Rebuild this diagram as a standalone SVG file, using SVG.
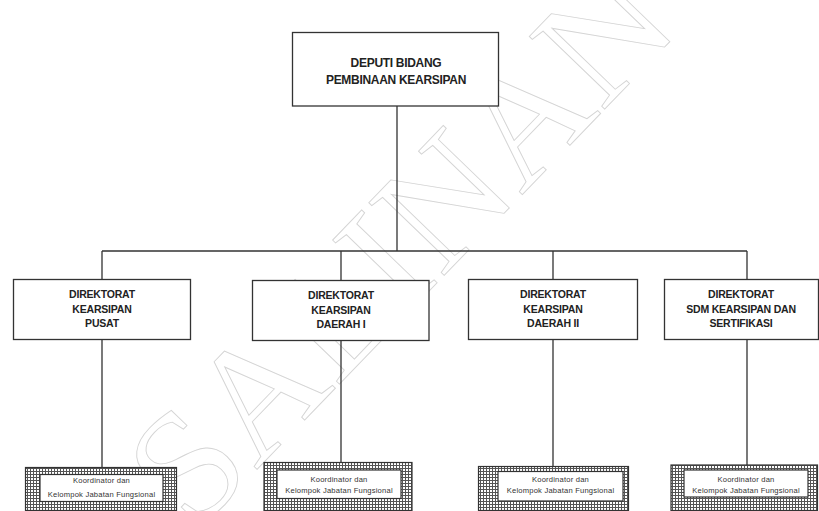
<svg xmlns="http://www.w3.org/2000/svg" width="819" height="511" viewBox="0 0 819 511">
<defs>
<pattern id="grid" width="3" height="3" patternUnits="userSpaceOnUse">
<rect width="3" height="3" fill="#ffffff"/>
<path d="M0 0.5H3M0.5 0V3" stroke="#555" stroke-width="1"/>
</pattern>
<style>
.box{fill:#fff;stroke:#333;stroke-width:1.3}
.hatch{fill:url(#grid);stroke:#333;stroke-width:1.2}
.inner{fill:#fff;stroke:#333;stroke-width:1.2}
.t1{font-family:"Liberation Sans",Arial,sans-serif;font-weight:bold;font-size:12px;fill:#222;text-anchor:middle;letter-spacing:-0.3px}
.t2{font-family:"Liberation Sans",Arial,sans-serif;font-weight:bold;font-size:10.5px;fill:#222;text-anchor:middle;letter-spacing:-0.2px}
.t3{font-family:"Liberation Sans",Arial,sans-serif;font-size:7.6px;fill:#333;text-anchor:middle;letter-spacing:0.2px}
.wm{font-family:"Liberation Serif","Times New Roman",serif;font-size:160px;fill:none;stroke:#d4d4d4;stroke-width:0.9;text-anchor:middle}
.ln{stroke:#333;stroke-width:1.3;fill:none}
</style>
</defs>
<rect width="819" height="511" fill="#fff"/>
<g id="watermark"><text class="wm" transform="translate(438 282) rotate(-46)">SALINAN</text></g>
<g id="connectors">
<path class="ln" d="M397 106V251M102 251H747M102 251V279M341 251V280M553 251V279M747 251V279"/>
<path class="ln" d="M102 339V468M341 340V463M553 339V467M747 339V465"/>
</g>
<g id="deputi">
<rect class="box" x="292.5" y="32.5" width="206" height="73.5"/>
<text class="t1" x="396" y="66.5">DEPUTI BIDANG</text>
<text class="t1" x="396" y="84">PEMBINAAN KEARSIPAN</text>
</g>
<g id="dir1">
<rect class="box" x="13.5" y="279.5" width="177" height="60"/>
<text class="t2" x="102" y="298">DIREKTORAT</text>
<text class="t2" x="102" y="312.5">KEARSIPAN</text>
<text class="t2" x="102" y="327">PUSAT</text>
</g>
<g id="dir2">
<rect class="box" x="252.5" y="280.5" width="176.5" height="60"/>
<text class="t2" x="341" y="299">DIREKTORAT</text>
<text class="t2" x="341" y="313.5">KEARSIPAN</text>
<text class="t2" x="341" y="328">DAERAH I</text>
</g>
<g id="dir3">
<rect class="box" x="468.5" y="279.5" width="169" height="60"/>
<text class="t2" x="553" y="298">DIREKTORAT</text>
<text class="t2" x="553" y="312.5">KEARSIPAN</text>
<text class="t2" x="553" y="327">DAERAH II</text>
</g>
<g id="dir4">
<rect class="box" x="664.5" y="279.5" width="154" height="60"/>
<text class="t2" x="741" y="298">DIREKTORAT</text>
<text class="t2" x="741" y="312.5">SDM KEARSIPAN DAN</text>
<text class="t2" x="741" y="327">SERTIFIKASI</text>
</g>
<g id="kjf1">
<rect class="hatch" x="25.5" y="467.5" width="151" height="43"/>
<rect class="inner" x="40" y="474.5" width="123" height="27"/>
<text class="t3" x="101.5" y="483">Koordinator dan</text>
<text class="t3" x="101.5" y="497">Kelompok Jabatan Fungsional</text>
</g>
<g id="kjf2">
<rect class="hatch" x="264" y="462.5" width="148" height="48"/>
<rect class="inner" x="277" y="470" width="124" height="28.5"/>
<text class="t3" x="339" y="482">Koordinator dan</text>
<text class="t3" x="339" y="493">Kelompok Jabatan Fungsional</text>
</g>
<g id="kjf3">
<rect class="hatch" x="478.5" y="466.5" width="150" height="44"/>
<rect class="inner" x="498" y="471.5" width="125" height="29.5"/>
<text class="t3" x="560.5" y="482">Koordinator dan</text>
<text class="t3" x="560.5" y="492.5">Kelompok Jabatan Fungsional</text>
</g>
<g id="kjf4">
<rect class="hatch" x="671" y="465" width="146.5" height="45.5"/>
<rect class="inner" x="684" y="470" width="124" height="27"/>
<text class="t3" x="746" y="482">Koordinator dan</text>
<text class="t3" x="746" y="493">Kelompok Jabatan Fungsional</text>
</g>
</svg>
